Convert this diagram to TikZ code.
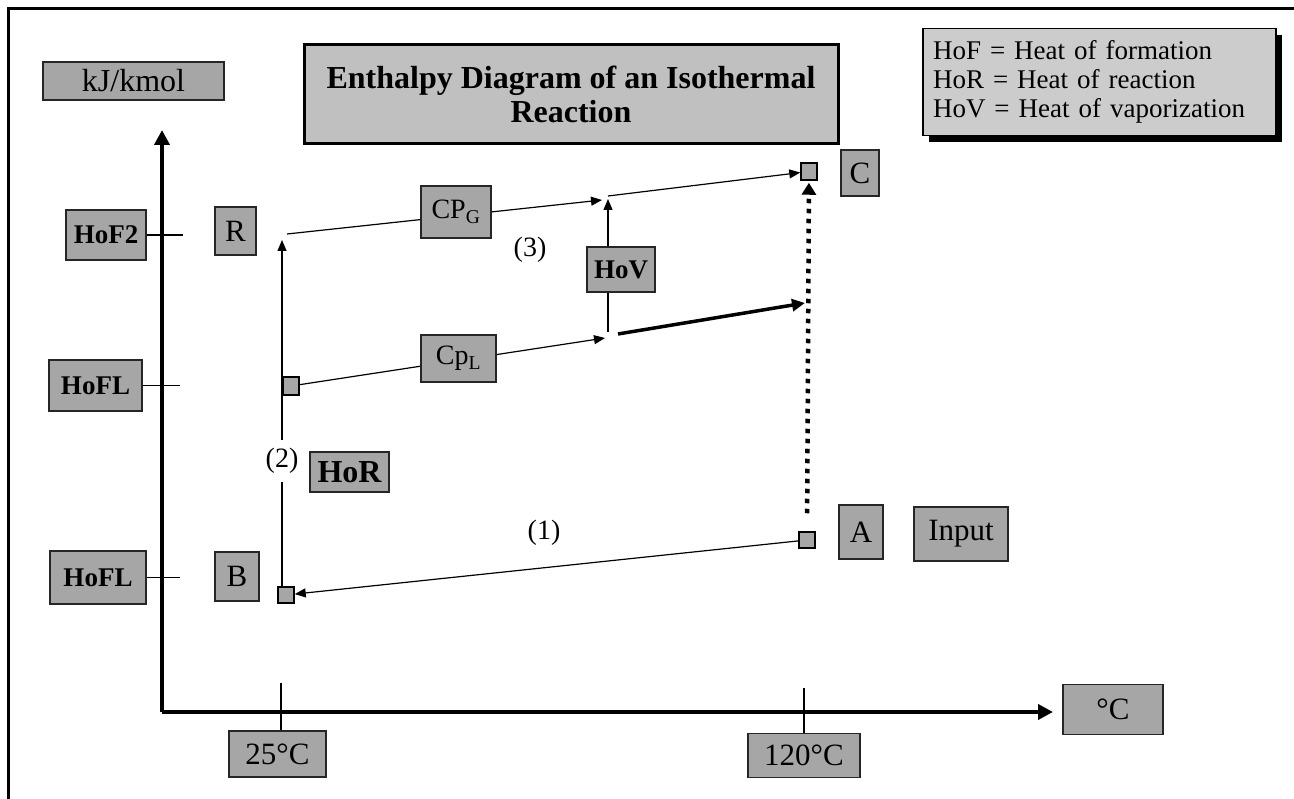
\documentclass[tikz,border=0pt]{standalone}
\usepackage{fontspec}
\setmainfont{Liberation Serif}
\usetikzlibrary{arrows.meta}
\definecolor{boxgray}{RGB}{166,166,166}
\definecolor{titlegray}{RGB}{192,192,192}
\definecolor{keygray}{RGB}{204,204,204}
\tikzset{
  lbl/.style={draw=black!85, line width=1.5pt, fill=boxgray, inner sep=0pt, font=\fontsize{31}{33}\selectfont},
  lvl/.style={lbl, font=\fontsize{27}{29}\selectfont\bfseries},
  cpbox/.style={lbl, font=\fontsize{28}{30}\selectfont},
  sq/.style={draw=black, line width=1.5pt, fill=boxgray, minimum width=16pt, minimum height=16pt, inner sep=0pt},
  stepno/.style={font=\fontsize{28}{30}\selectfont, inner sep=2pt},
  arr/.style={line width=1.2pt, -{Triangle[length=11pt,width=9pt]}},
  tick/.style={line width=1.3pt},
  axis/.style={line width=4pt, -{Triangle[length=15pt,width=15pt]}},
  dotarr/.style={line width=4.5pt, dash pattern=on 4.5pt off 5.5pt, -{Triangle[length=12pt,width=14pt]}},
  fatarr/.style={line width=3.5pt, -{Triangle[length=13pt,width=12pt]}},
}

\begin{document}
\begin{tikzpicture}[x=1pt,y=1pt,yscale=-1]
\useasboundingbox (0,0) rectangle (1294,799);

%Frame
\draw [line width=3pt] (8,799) -- (8,9) -- (1294,9);

%Axes
\coordinate (org) at (162,712);
\coordinate (ytop) at (162,130);
\coordinate (xend) at (1053,712);
\draw [axis] (org) -- (ytop);
\draw [axis] (org) -- (xend);

% Text Node
\node [lbl, minimum width=181pt, minimum height=38pt, font=\fontsize{32}{34}\selectfont] (kj) at (133.5,81) {kJ/kmol};
% Title
\node [draw=black, line width=3pt, fill=titlegray, minimum width=534pt, minimum height=99pt, align=center,
  font=\fontsize{32}{34}\selectfont\bfseries] (title) at (571,94.5) {Enthalpy Diagram of an Isothermal\\Reaction};
% Key with shadow
\fill [black] (929,35) rectangle (1282,142);
\node [draw=black, line width=1.5pt, fill=keygray, text width=333pt, inner xsep=10pt, inner ysep=0pt,
  minimum height=107pt, align=left, font=\fontsize{27}{29}\selectfont] (key) at (1099.5,82)
  {HoF = Heat of formation\\HoR = Heat of reaction\\HoV = Heat of vaporization};

%Levels on the enthalpy axis
\node [lvl, minimum width=80pt, minimum height=50pt] (hof2) at (106,235) {HoF2};
\node [lvl, minimum width=93pt, minimum height=51pt] (hofl) at (95.5,385.5) {HoFL};
\node [lvl, minimum width=96pt, minimum height=53pt] (hoflb) at (98,577.5) {HoFL};
\draw [tick] (hof2.east) -- ++(36,0);
\draw [tick] (hofl.east) -- ++(37,0);
\draw [tick] (hoflb.east) -- ++(33,0);

%Temperatures
\node [lbl, minimum width=97pt, minimum height=46pt] (t25) at (277.5,754) {25°C};
\node [lbl, minimum width=112pt, minimum height=44pt] (t120) at (804,755.5) {120°C};
\node [lbl, minimum width=100pt, minimum height=50pt] (tunit) at (1113,709.5) {°C};
\draw [tick] (t25.north -| 281,0) -- ++(0,-47);
\draw [tick] (t120.north) -- ++(0,-45);

%State letters
\node [lbl, minimum width=41pt, minimum height=48pt] (rlab) at (235.5,231) {R};
\node [lbl, minimum width=44pt, minimum height=49pt] (blab) at (237,576.5) {B};
\node [lbl, minimum width=38pt, minimum height=46pt] (clab) at (860,173) {C};
\node [lbl, minimum width=44pt, minimum height=54pt] (alab) at (861,532) {A};
\node [lbl, minimum width=94pt, minimum height=54pt] (inp) at (961,534) {Input};

%Path points
\coordinate (rtip) at (282,240);
\coordinate (gasS) at (287,234);
\coordinate (gasE) at (602,200);
\coordinate (vapL) at (605,338);
\coordinate (vapB) at (608,332);
\coordinate (vapT) at (608,199);
\coordinate (gasM) at (608,196);
\coordinate (liqM) at (618,334);
\coordinate (dotM) at (805,303);

\node [stepno, fill=white, inner ysep=8pt] (lab2) at (282,461) {(2)};
\node [sq] (sqB) at (286,595) {};
\node [sq] (sqA) at (807,540) {};
\node [sq, minimum height=17pt] (sqC) at (809,171.5) {};

%Step (2): reaction at 25 C
\draw [tick] (sqB.north -| lab2) -- (lab2);
\draw [arr] (lab2) -- (rtip);
\node [sq, minimum height=18pt] (sqL) at (291,386) {};
\node [lvl, font=\fontsize{32}{34}\selectfont\bfseries, minimum width=79pt, minimum height=40pt] (hor) at (349.5,472) {HoR};

%Step (1): cooling the input
\draw [arr] (sqA) -- (sqB);
\node [stepno] (lab1) at (544,533) {(1)};

%Step (3): heating the products
\draw [arr] (sqL) -- (vapL);
\draw [arr] (gasS) -- (gasE);
\draw [arr] (vapB) -- (vapT);
\draw [arr] (gasM) -- (sqC);
\draw [fatarr] (liqM) -- (dotM);
\draw [dotarr, shorten <=18pt, shorten >=2pt] (sqA) -- (sqC);
\node [cpbox, minimum width=70pt, minimum height=52pt] (cpg) at (456,212) {CP\textsubscript{G}};
\node [cpbox, minimum width=75pt, minimum height=47pt] (cpl) at (458.5,358.5) {Cp\textsubscript{L}};
\node [lvl, minimum width=68pt, minimum height=45pt] (hov) at (621,269.5) {HoV};
\node [stepno] (lab3) at (530,250) {(3)};

\end{tikzpicture}
\end{document}
